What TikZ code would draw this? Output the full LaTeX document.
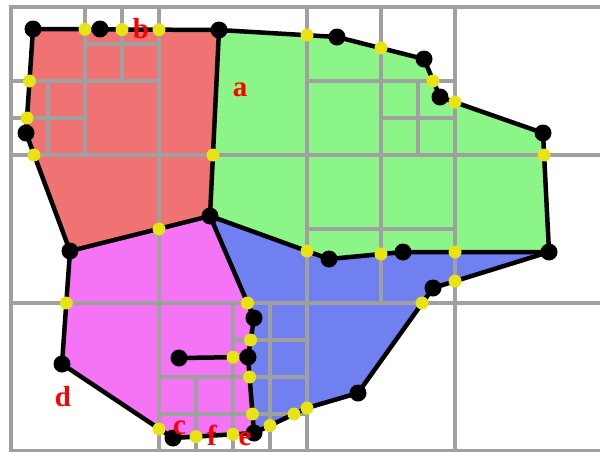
\documentclass[tikz,border=0pt]{standalone}
\usepackage{fontspec}
\setmainfont{Liberation Serif}

\definecolor{cellred}{RGB}{241,114,114}
\definecolor{cellgreen}{RGB}{139,246,135}
\definecolor{cellblue}{RGB}{112,128,240}
\definecolor{cellpink}{RGB}{245,115,245}
\definecolor{gridgray}{RGB}{160,160,160}
\definecolor{cutyellow}{RGB}{232,228,20}

\begin{document}
\begin{tikzpicture}[x=1pt,y=-1pt,
  gridline/.style={line width=4.8pt,gridgray,line cap=rect},
  border/.style={line width=4.5pt,line join=round},
  vtx/.style={fill=black},
  cut/.style={fill=cutyellow},
  lbl/.style={text=red,inner sep=0pt,font=\fontsize{29}{29}\selectfont\bfseries}]
  \useasboundingbox (0,0) rectangle (600,451);
  \clip (0,0) rectangle (600,451);

  % Cell vertices
  \coordinate (R1) at (33,29);
  \coordinate (B1) at (100,29);
  \coordinate (A)  at (219,30);
  \coordinate (G1) at (337,37);
  \coordinate (G2) at (424,59);
  \coordinate (G3) at (440,97);
  \coordinate (G4) at (543,133);
  \coordinate (G5) at (549,252);
  \coordinate (G6) at (403,252);
  \coordinate (G7) at (329,259);
  \coordinate (M)  at (210,216);
  \coordinate (R2) at (70,251);
  \coordinate (R3) at (26,133);
  \coordinate (P1) at (62,364);
  \coordinate (P2) at (173,438);
  \coordinate (P3) at (254,433);
  \coordinate (P4) at (248,357);
  \coordinate (P5) at (254,318);
  \coordinate (B2) at (433,288);
  \coordinate (B3) at (358,393);
  \coordinate (B4) at (307,408);
  \coordinate (T1) at (179,358);

  % Cell fills
  \fill[cellred] (R1) -- (A) -- (M) -- (R2) -- (R3) -- cycle;
  \fill[cellgreen] (A) -- (G1) -- (G2) -- (G3) -- (G4) -- (G5) -- (G6) -- (G7) -- (M) -- cycle;
  \fill[cellblue] (M) -- (G7) -- (G6) -- (G5) -- (B2) -- (B3) -- (B4) -- (P3) -- (P4) -- (P5) -- cycle;
  \fill[cellpink] (R2) -- (M) -- (P5) -- (P4) -- (P3) -- (P2) -- (P1) -- cycle;

  % Coarse grid
  \foreach \x in {11,159,307,455}
    \draw[gridline] (\x,7) -- (\x,451);
  \foreach \y in {7,155,303,451}
    \draw[gridline] (11,\y) -- (603,\y);

  % Refined cells
  \draw[gridline] (85,7) -- (85,155);
  \draw[gridline] (11,81) -- (159,81);
  \draw[gridline] (122,7) -- (122,81);
  \draw[gridline] (85,44) -- (159,44);
  \draw[gridline] (48,81) -- (48,155);
  \draw[gridline] (11,118) -- (85,118);
  \draw[gridline] (381,7) -- (381,303);
  \draw[gridline] (307,81) -- (455,81);
  \draw[gridline] (418,81) -- (418,155);
  \draw[gridline] (381,118) -- (455,118);
  \draw[gridline] (307,229) -- (455,229);
  \draw[gridline] (233,303) -- (233,451);
  \draw[gridline] (159,377) -- (307,377);
  \draw[gridline] (270,303) -- (270,451);
  \draw[gridline] (233,340) -- (307,340);
  \draw[gridline] (196,377) -- (196,451);
  \draw[gridline] (159,414) -- (307,414);

  % Cell borders
  \draw[border] (R1) -- (A) -- (M) -- (R2) -- (R3) -- cycle;
  \draw[border] (A) -- (G1) -- (G2) -- (G3) -- (G4) -- (G5) -- (G6) -- (G7) -- (M);
  \draw[border] (G5) -- (B2) -- (B3) -- (B4) -- (P3) -- (P4) -- (P5) -- (M);
  \draw[border] (R2) -- (P1) -- (P2) -- (P3);
  \draw[border] (T1) -- (P4);

  % Vertices
  \foreach \v in {R1,B1,A,G1,G2,G3,G4,G5,G6,G7,M,R2,R3,P1,P2,P3,P4,P5,B2,B3,T1}
    \fill[vtx] (\v) circle[radius=8.5pt];

  % Grid crossings
  \foreach \p in {(85,29.3),(122,29.5),(159,29.7),(29.5,81),(27,118),(34,155),
                  (213,155),(159,229),(307,35),(381,48),(433,81),(455,102),
                  (544,155),(455,252),(381,254),(307,251),(455,281),(422,303),
                  (307,408),(294,414),(270,425.5),(252.5,414),(249.6,377),
                  (250.6,340),(247.5,303),(233,357.2),(196,436.6),(233,434.3),
                  (159,429),(66.3,303)}
    \fill[cut] \p circle[radius=6.5pt];

  % Labels
  \node[lbl] (la) at (240,90) {a};
  \node[lbl] (lb) at (141,29) {b};
  \node[lbl] (lc) at (179.5,427.5) {c};
  \node[lbl] (ld) at (63,396.5) {d};
  \node[lbl] (le) at (245,439) {e};
  \node[lbl] (lf) at (212,435) {f};
\end{tikzpicture}
\end{document}
